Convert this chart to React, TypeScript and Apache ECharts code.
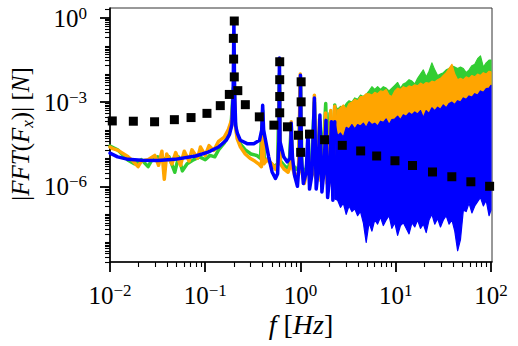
import React, { useEffect, useRef } from 'react';
import * as echarts from 'echarts';

// ---- axis ranges (log10 units) ----
const X_MIN = -2;
const X_MAX = 2.011;
const Y_MIN = -8.7;
const Y_MAX = 0.357;
const xMajorTicks = [-2, -1, 0, 1, 2];
const yMajorTicks = [-6, -3, 0];

// ---- black squares: [log10 f (Hz), log10 |FFT| (N)] ----
const squares: [number, number][] = [
  [-1.976, -3.67], [-1.755, -3.68], [-1.532, -3.7], [-1.324, -3.625], [-1.149, -3.55],
  [-0.982, -3.4], [-0.842, -3.125], [-0.747, -2.725], [-0.695, -2.1], [-0.702, -1.464],
  [-0.705, -0.725], [-0.695, -0.107], [-0.658, -2.59], [-0.579, -3.09], [-0.432, -3.525],
  [-0.279, -3.82], [-0.218, -1.56], [-0.218, -2.2], [-0.218, -2.8], [-0.218, -3.38],
  [-0.137, -3.88], [0.007, -2.275], [0.007, -2.99], [0.007, -3.7], [0.002, -4.79],
  [-0.021, -4.18], [0.095, -4.14], [0.253, -4.34], [0.439, -4.54], [0.632, -4.74],
  [0.8, -4.92], [0.992, -5.09], [1.176, -5.26], [1.386, -5.49], [1.589, -5.66],
  [1.789, -5.84], [1.986, -6.0],
];

// ---- low-frequency lines [log10 f, log10 |FFT|] ----
const blueLine: [number, number][] = [
  [-2.0, -4.82], [-1.92, -4.95], [-1.81, -5.04], [-1.67, -5.07], [-1.5, -5.08], [-1.32, -5.04],
  [-1.1, -4.92], [-0.97, -4.78], [-0.86, -4.6], [-0.78, -4.36], [-0.745, -4.15], [-0.72, -3.8],
  [-0.707, -2.7], [-0.699, -0.14], [-0.691, -2.7], [-0.68, -3.85], [-0.663, -4.11], [-0.632, -4.36],
  [-0.56, -4.48], [-0.49, -4.48], [-0.43, -4.36], [-0.407, -4.0], [-0.397, -3.11], [-0.387, -4.0],
  [-0.334, -4.95], [-0.298, -5.49], [-0.263, -5.72], [-0.24, -5.55], [-0.227, -4.4], [-0.221, -1.43],
  [-0.215, -4.4], [-0.176, -4.95], [-0.14, -5.13], [-0.11, -5.0], [-0.1, -4.3], [-0.097, -3.75],
  [-0.093, -4.3], [-0.084, -4.95], [-0.063, -5.6], [-0.032, -6.0], [-0.01, -5.0], [0.0, -2.04],
  [0.01, -5.0], [0.03, -5.9], [0.06, -5.5], [0.079, -4.06], [0.095, -6.1], [0.12, -5.6],
  [0.146, -2.85], [0.165, -6.1], [0.185, -5.5], [0.204, -3.46], [0.225, -6.2], [0.245, -5.5],
  [0.268, -3.65], [0.285, -6.4], [0.305, -5.7], [0.325, -3.7], [0.34, -6.5], [0.36, -3.7],
];

const orangeLine: [number, number][] = [
  [-2.0, -4.6], [-1.97, -4.66], [-1.915, -4.72], [-1.81, -4.95], [-1.76, -5.1], [-1.705, -5.3],
  [-1.67, -5.1], [-1.6, -5.05], [-1.53, -4.9], [-1.49, -5.25], [-1.455, -4.75], [-1.43, -5.75],
  [-1.405, -4.85], [-1.35, -5.2], [-1.31, -4.8], [-1.26, -5.25], [-1.22, -4.75], [-1.17, -5.1],
  [-1.14, -4.7], [-1.08, -5.0], [-1.05, -4.6], [-1.0, -4.9], [-0.96, -4.55], [-0.91, -4.72],
  [-0.86, -4.4], [-0.8, -4.25], [-0.76, -4.0], [-0.72, -3.6], [-0.703, -2.6], [-0.695, -2.6],
  [-0.685, -3.8], [-0.665, -4.3], [-0.63, -4.6], [-0.58, -4.85], [-0.53, -5.0], [-0.48, -5.1],
  [-0.44, -5.2], [-0.41, -5.3], [-0.397, -3.4], [-0.385, -5.2], [-0.35, -5.05], [-0.3, -5.2],
  [-0.26, -5.4], [-0.232, -5.1], [-0.221, -2.5], [-0.212, -5.2], [-0.17, -5.4], [-0.13, -5.5],
  [-0.105, -5.25], [-0.097, -3.7], [-0.088, -5.3], [-0.05, -5.7], [-0.02, -5.5], [-0.002, -2.0],
  [0.01, -5.4], [0.04, -5.9], [0.065, -5.5], [0.079, -4.7], [0.1, -5.8], [0.13, -5.5],
  [0.146, -2.75], [0.16, -5.7], [0.185, -5.5], [0.2, -3.6], [0.215, -5.8], [0.245, -5.2],
  [0.263, -3.39], [0.28, -5.9], [0.3, -5.4], [0.318, -3.3], [0.335, -6.0], [0.36, -3.15],
];

const greenLine: [number, number][] = [
  [-2.0, -4.57], [-1.92, -4.7], [-1.81, -5.07], [-1.74, -5.2], [-1.67, -5.05], [-1.6, -5.3],
  [-1.55, -5.0], [-1.5, -4.95], [-1.45, -5.05], [-1.38, -4.95], [-1.32, -5.5], [-1.28, -4.95],
  [-1.24, -5.45], [-1.19, -5.2], [-1.12, -5.05], [-1.06, -4.95], [-1.0, -5.05], [-0.95, -4.9],
  [-0.9, -4.95], [-0.86, -4.7], [-0.8, -4.45], [-0.76, -4.2], [-0.73, -3.9], [-0.705, -2.5],
  [-0.695, -2.5], [-0.685, -3.7], [-0.67, -4.1], [-0.63, -4.5], [-0.58, -4.7], [-0.52, -4.85],
  [-0.46, -4.9], [-0.42, -5.0], [-0.397, -3.3], [-0.38, -5.0], [-0.33, -5.1], [-0.28, -5.3],
  [-0.24, -5.2], [-0.221, -2.0], [-0.21, -5.1], [-0.16, -5.3], [-0.12, -5.35], [-0.097, -3.8],
  [-0.085, -5.2], [-0.05, -5.4], [-0.02, -5.3], [0.0, -2.2], [0.015, -5.3], [0.05, -5.6],
  [0.079, -4.9], [0.11, -5.6], [0.146, -3.0], [0.17, -5.4], [0.205, -3.7], [0.23, -5.3],
  [0.265, -3.05], [0.285, -5.3], [0.31, -3.4], [0.33, -5.2], [0.36, -3.1],
];

// ---- dense high-frequency band: envelopes on a shared frequency grid ----
const bandLogF = [
  0.36, 0.39, 0.42, 0.45, 0.48, 0.51, 0.54, 0.57, 0.6, 0.63, 0.66, 0.69, 0.72, 0.75, 0.78, 0.81,
  0.84, 0.87, 0.9, 0.93, 0.96, 0.99, 1.02, 1.05, 1.08, 1.11, 1.14, 1.17, 1.2, 1.23, 1.26, 1.29,
  1.32, 1.35, 1.38, 1.41, 1.44, 1.47, 1.5, 1.53, 1.56, 1.59, 1.62, 1.65, 1.68, 1.71, 1.74, 1.77,
  1.8, 1.83, 1.86, 1.89, 1.92, 1.95, 1.98, 2.0,
];
const blueUpper = [
  -3.7, -4.2, -4.1, -4.25, -3.9, -3.95, -3.8, -3.95, -3.8, -3.85, -3.75, -3.9, -3.7, -3.8, -3.75, -3.85,
  -3.68, -3.72, -3.6, -3.8, -3.62, -3.6, -3.5, -3.62, -3.45, -3.5, -3.38, -3.45, -3.35, -3.42, -3.3, -3.55,
  -3.3, -3.4, -3.2, -3.3, -3.18, -3.25, -3.1, -3.2, -3.05, -3.0, -3.08, -2.95, -3.0, -2.85, -2.9, -2.78,
  -2.82, -2.7, -2.75, -2.6, -2.65, -2.52, -2.5, -2.4,
];
const blueLower = [
  -6.45, -6.5, -6.75, -6.6, -7.0, -6.7, -6.9, -6.8, -7.05, -6.9, -7.3, -8.0, -7.3, -7.6, -7.2, -7.35,
  -7.1, -7.4, -7.2, -7.05, -7.5, -7.3, -7.75, -7.4, -7.3, -7.5, -7.7, -7.3, -7.45, -7.2, -7.5, -7.35,
  -7.65, -7.2, -7.0, -7.35, -7.15, -7.45, -7.2, -7.05, -7.35, -7.2, -7.6, -8.3, -7.9, -6.85, -6.9, -6.6,
  -6.95, -6.7, -6.55, -6.4, -6.7, -6.5, -7.05, -6.85,
];
const orangeUpper = [
  -3.15, -3.3, -3.2, -3.1, -3.25, -3.05, -3.0, -2.9, -2.95, -2.8, -2.8, -2.7, -2.7, -2.75, -2.65, -2.7,
  -2.6, -2.62, -2.55, -2.75, -2.8, -2.6, -2.5, -2.55, -2.45, -2.5, -2.42, -2.45, -2.38, -2.42, -2.32, -2.38,
  -2.3, -2.33, -2.25, -2.28, -2.2, -2.15, -2.05, -1.95, -1.8, -1.65, -2.0, -2.2, -2.15, -2.2, -2.1, -2.15,
  -2.05, -2.1, -2.0, -2.05, -1.95, -2.0, -1.9, -1.92,
];
const greenUpper = [
  -3.1, -3.25, -3.15, -3.2, -3.05, -2.95, -3.0, -2.85, -2.9, -2.75, -2.8, -2.72, -2.6, -2.45, -2.55, -2.45,
  -2.55, -2.45, -2.5, -2.6, -2.5, -2.4, -2.3, -2.5, -2.35, -2.3, -2.2, -2.25, -2.35, -2.15, -2.0, -1.85,
  -2.1, -1.9, -1.6, -1.85, -2.05, -2.0, -1.95, -1.85, -1.8, -1.7, -1.75, -1.8, -1.75, -1.8, -1.95, -1.85,
  -1.7, -1.65, -1.45, -1.35, -1.75, -1.6, -1.5, -1.5,
];

const GREEN = '#32cd32';
const ORANGE = '#ffa500';
const BLUE = '#0000ff';
const FONT = 'Liberation Serif';

function minorTicks(lo: number, hi: number, majors: number[]): number[] {
  const out: number[] = [];
  for (let n = Math.floor(lo) - 1; n <= Math.ceil(hi); n++) {
    for (let k = 1; k <= 9; k++) {
      const v = n + Math.log10(k);
      if (k === 1 && majors.includes(n)) continue;
      if (v >= lo - 1e-9 && v <= hi + 1e-9) out.push(v);
    }
  }
  return out;
}

const tickRich = {
  b: { fontFamily: FONT, fontSize: 25, color: '#000', lineHeight: 26, verticalAlign: 'bottom' as const },
  s: { fontFamily: FONT, fontSize: 17, color: '#000', lineHeight: 10, verticalAlign: 'top' as const },
};
const fmtPow = (v: number) => {
  const e = Math.round(v);
  return `{b|10}{s|${e < 0 ? '\u2212' + Math.abs(e) : String(e)}}`;
};

function band(name: string, upper: number[], lower: number[], color: string) {
  return {
    type: 'custom',
    name,
    silent: true,
    clip: true,
    data: [[bandLogF[0], upper[0]]],
    renderItem: (_params: any, api: any) => {
      const pts: number[][] = [];
      for (let i = 0; i < bandLogF.length; i++) pts.push(api.coord([bandLogF[i], upper[i]]));
      for (let i = bandLogF.length - 1; i >= 0; i--) pts.push(api.coord([bandLogF[i], lower[i]]));
      return {
        type: 'polygon',
        shape: { points: pts },
        style: { fill: color, stroke: color, lineWidth: 1.2, lineJoin: 'round' },
      };
    },
  };
}

function line(name: string, data: [number, number][], color: string) {
  return {
    type: 'line',
    name,
    data,
    showSymbol: false,
    symbol: 'none',
    silent: true,
    clip: true,
    lineStyle: { color, width: 3.5, join: 'round', cap: 'round' },
  };
}

export default function App() {
  const ref = useRef<HTMLDivElement>(null);
  useEffect(() => {
    if (!ref.current) return;
    const chart = echarts.init(ref.current, undefined, { renderer: 'svg' });
    const xMinor = minorTicks(X_MIN, X_MAX, xMajorTicks);
    const yMinor = minorTicks(Y_MIN, Y_MAX, yMajorTicks);
    const axisBase = {
      type: 'value' as const,
      splitLine: { show: false },
      axisPointer: { show: false },
    };
    chart.setOption({
      animation: false,
      backgroundColor: '#fff',
      grid: {
        left: 110, right: 26, top: 8, bottom: 84,
        show: true, borderColor: '#333', borderWidth: 1, backgroundColor: 'transparent',
      },
      xAxis: [
        {
          ...axisBase, min: X_MIN, max: X_MAX, position: 'bottom',
          axisLine: { show: true, onZero: false, lineStyle: { color: '#000', width: 1.6 } },
          axisTick: { show: true, customValues: xMajorTicks, length: 10, lineStyle: { color: '#000', width: 1.8 } },
          axisLabel: { show: true, customValues: xMajorTicks, margin: 20, formatter: fmtPow, rich: tickRich },
        },
        {
          ...axisBase, min: X_MIN, max: X_MAX, position: 'bottom',
          axisLine: { show: false, onZero: false },
          axisTick: { show: true, customValues: xMinor, length: 5, lineStyle: { color: '#000', width: 1.1 } },
          axisLabel: { show: false },
        },
      ],
      yAxis: [
        {
          ...axisBase, min: Y_MIN, max: Y_MAX, position: 'left',
          axisLine: { show: true, onZero: false, lineStyle: { color: '#000', width: 1.6 } },
          axisTick: { show: true, customValues: yMajorTicks, length: 10, lineStyle: { color: '#000', width: 1.8 } },
          axisLabel: { show: true, customValues: yMajorTicks, margin: 23, formatter: fmtPow, rich: tickRich },
        },
        {
          ...axisBase, min: Y_MIN, max: Y_MAX, position: 'left',
          axisLine: { show: false, onZero: false },
          axisTick: { show: true, customValues: yMinor, length: 5, lineStyle: { color: '#000', width: 1.1 } },
          axisLabel: { show: false },
        },
      ],
      graphic: [
        {
          type: 'text', x: 301, y: 324, silent: true,
          style: {
            text: '{i|f }{r|[}{i|Hz}{r|]}',
            align: 'center', verticalAlign: 'middle', textAlign: 'center', textVerticalAlign: 'middle',
            rich: {
              i: { fontFamily: FONT, fontStyle: 'italic', fontSize: 28, color: '#000' },
              r: { fontFamily: FONT, fontSize: 28, color: '#000' },
            },
          },
        },
        {
          type: 'text', x: 22, y: 134, rotation: Math.PI / 2, silent: true,
          style: {
            text: '{r||}{i|FFT}{r|(}{i|F}{sub|x}{r|)| [}{i|N}{r|]}',
            align: 'center', verticalAlign: 'middle', textAlign: 'center', textVerticalAlign: 'middle',
            rich: {
              i: { fontFamily: FONT, fontStyle: 'italic', fontSize: 25, color: '#000', lineHeight: 28, verticalAlign: 'top' },
              r: { fontFamily: FONT, fontSize: 25, color: '#000', lineHeight: 28, verticalAlign: 'top' },
              sub: { fontFamily: FONT, fontStyle: 'italic', fontSize: 17, color: '#000', lineHeight: 19, verticalAlign: 'bottom' },
            },
          },
        },
      ],
      series: [
        line('green', greenLine, GREEN),
        band('greenBand', greenUpper, blueUpper, GREEN),
        line('orange', orangeLine, ORANGE),
        band('orangeBand', orangeUpper, blueUpper, ORANGE),
        line('blue', blueLine, BLUE),
        band('blueBand', blueUpper, blueLower, BLUE),
        {
          type: 'scatter',
          name: 'squares',
          data: squares,
          symbol: 'rect',
          symbolSize: 9,
          silent: true,
          itemStyle: { color: '#000', opacity: 1 },
          z: 5,
        },
      ],
    });
    return () => chart.dispose();
  }, []);
  return <div ref={ref} style={{ position: 'absolute', left: 0, top: 0, width: 518, height: 346 }} />;
}
